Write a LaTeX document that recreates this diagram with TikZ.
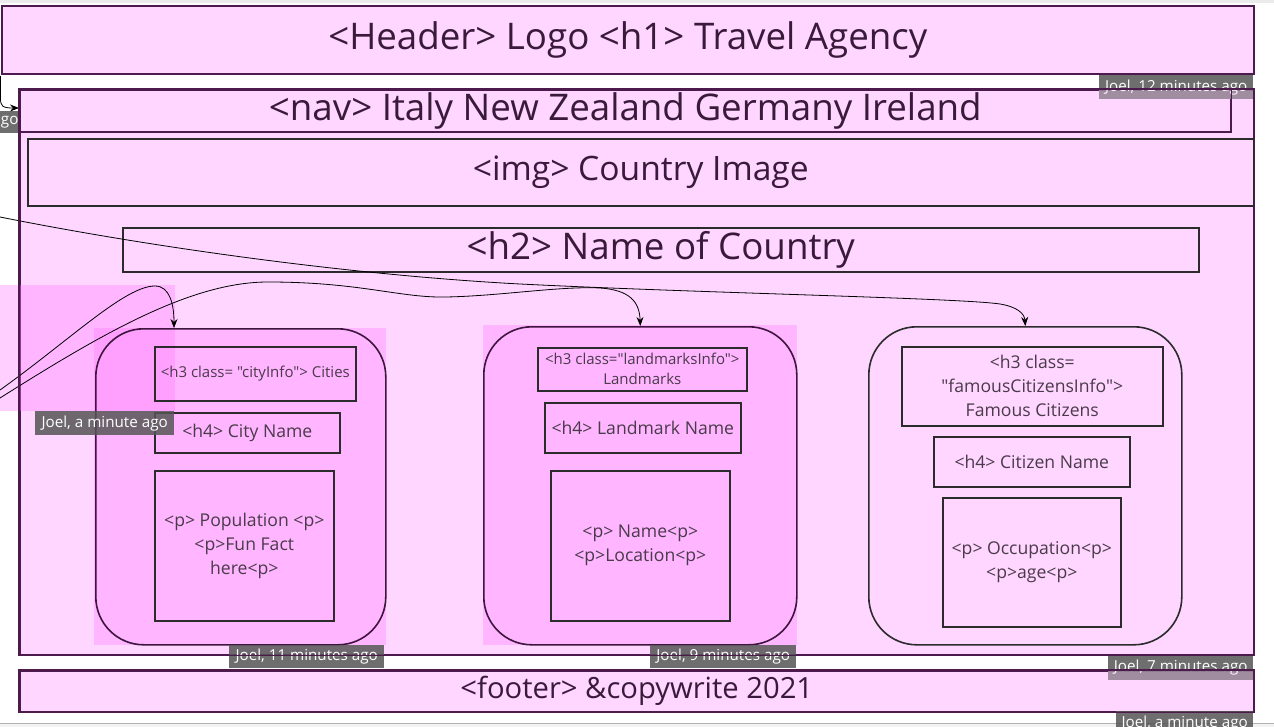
\documentclass[tikz,border=0pt]{standalone}
\usepackage{fontspec}
\setmainfont{Open Sans}[Ligatures=TeXOff]
\usetikzlibrary{arrows.meta}
\definecolor{pinkbg}{HTML}{FFD6FF}
\definecolor{hlc}{HTML}{FF7AFF}
\definecolor{framec}{HTML}{4D1A4D}
\definecolor{boxc}{HTML}{2B2B2B}
\definecolor{cardc}{HTML}{3D153D}
\definecolor{bigtext}{HTML}{3A1A3A}
\definecolor{smalltext}{HTML}{4A3A4A}
\definecolor{tagc}{HTML}{555555}
\newcommand{\bigfont}{\fontsize{36.7}{42}\selectfont}
\newcommand{\imgfont}{\fontsize{33.6}{40}\selectfont}
\newcommand{\footfont}{\fontsize{29.2}{34}\selectfont}
\newcommand{\midfont}{\fontsize{17.6}{24}\selectfont}
\newcommand{\hthreefont}{\fontsize{15}{20}\selectfont}
\tikzset{
  frame/.style={draw=framec, line width=1.6pt, fill=pinkbg, inner sep=0pt, anchor=north west, text=bigtext, font=\bigfont},
  inbox/.style={draw=boxc, line width=1.6pt, inner sep=0pt, anchor=north west, align=center, text=smalltext, font=\midfont},
  cardbox/.style={draw=cardc, line width=1.6pt, rounded corners=48pt, inner sep=0pt, anchor=north west},
  hlarea/.style={fill=hlc, fill opacity=0.35},
  tagbox/.style={fill=tagc, fill opacity=0.85, text opacity=1, text=white, inner sep=0pt, anchor=north west, font=\fontsize{15.2}{17}\selectfont},
  conn/.style={draw=black, line width=0.8pt, -{Stealth[length=9pt,width=7pt]}},
  borderonly/.style={draw=framec, line width=1.6pt}
}
\begin{document}
\begin{tikzpicture}[x=1pt,y=-1pt]
\clip (0,0) rectangle (1274,727);
\fill[white] (0,0) rectangle (1274,727);
% window chrome
\fill[black!8] (0,0) rectangle (1274,3);
\fill[black!5] (0,723) rectangle (1274,727);
\draw[black!30, line width=0.8pt] (0,723) -- (1274,723);

% frames
\node[frame, minimum width=1252pt, minimum height=68pt] (header) at (1,5) {<Header> Logo <h1> Travel Agency};
\node[frame, minimum width=1234pt, minimum height=565pt] (main) at (19,89) {};
\node[frame, minimum width=1211pt, minimum height=42pt] (nav) at (19,89) {<nav> Italy New Zealand Germany Ireland};
\node[inbox, fill=pinkbg, text=bigtext, font=\imgfont, minimum width=1226pt, minimum height=67pt] (img) at (27,138) {<img> Country Image};
\node[inbox, text=bigtext, font=\bigfont, minimum width=1076pt, minimum height=44pt] (h2) at (122,227) {<h2> Name of Country};
\node[frame, font=\footfont, minimum width=1234pt, minimum height=41pt] (footer) at (19,670) {<footer> \&copywrite 2021};

% highlight areas
\fill[hlarea] (0,285) rectangle (175,411);
\fill[hlarea] (94,328) rectangle (386,645);
\fill[hlarea] (483,325) rectangle (797,645);

% cards
\node[cardbox, minimum width=290pt, minimum height=316pt] (card1) at (95,328) {};
\node[cardbox, minimum width=313pt, minimum height=318pt] (card2) at (483,326) {};
\node[cardbox, draw=boxc, minimum width=313pt, minimum height=318pt] (card3) at (868,326) {};

% card 1 content
\node[inbox, font=\hthreefont, minimum width=201pt, minimum height=54pt] (c1h3) at (154,346) {<h3 class= "cityInfo"> Cities};
\node[inbox, minimum width=185pt, minimum height=40pt] (c1h4) at (154,412) {<h4> City Name};
\node[inbox, minimum width=179pt, minimum height=150pt] (c1p) at (154,470) {<p> Population <p>\\<p>Fun Fact\\here<p>};

% card 2 content
\node[inbox, font=\hthreefont, minimum width=209pt, minimum height=43pt] (c2h3) at (537,347) {<h3 class="landmarksInfo">\\Landmarks};
\node[inbox, minimum width=196pt, minimum height=50pt] (c2h4) at (544,402) {<h4> Landmark Name};
\node[inbox, minimum width=179pt, minimum height=150pt] (c2p) at (550,470) {<p> Name<p>\\<p>Location<p>};

% card 3 content
\node[inbox, minimum width=261pt, minimum height=79pt] (c3h3) at (901,346) {<h3 class=\\"famousCitizensInfo">\\Famous Citizens};
\node[inbox, minimum width=196pt, minimum height=50pt] (c3h4) at (933,436) {<h4> Citizen Name};
\node[inbox, minimum width=178pt, minimum height=129pt] (c3p) at (942,497) {<p> Occupation<p>\\<p>age<p>};

% connector ends
\coordinate (s0) at (0.5,76);
\coordinate (s1) at (0,217);
\coordinate (s2) at (0,390);
\coordinate (s3) at (0,398);
\coordinate (c1in) at (174,328);
\coordinate (navin) at (19,108);

% connectors
\draw[conn] (s0) -- (0.5,98) .. controls (0.5,106) and (2,108) .. (navin);
\draw[conn] (s1) .. controls (150,247) and (350,275) .. (520,284)
  .. controls (700,293) and (960,298) .. (1000,304)
  .. controls (1018,307) and (1024.5,314) .. (card3.north);
\draw[conn] (s2) .. controls (70,340) and (125,286) .. (155,286)
  .. controls (170,286) and (174,305) .. (c1in);
\draw[conn] (s3) .. controls (100,335) and (190,282) .. (268,282)
  .. controls (360,282) and (400,298) .. (446,297)
  .. controls (500,296) and (560,286) .. (600,288)
  .. controls (630,290) and (639.5,302) .. (card2.north);

% comment tags
\node[tagbox, minimum width=154pt, minimum height=24pt] (t12) at (1099,75) {Joel, 12 minutes ago};
\node[tagbox, minimum width=19pt, minimum height=22pt] (tgo) at (0,111) {go};
\node[tagbox, minimum width=139pt, minimum height=24pt] (tmin1) at (35,411) {Joel, a minute ago};
\node[tagbox, minimum width=155pt, minimum height=23pt] (t11) at (229,645) {Joel, 11 minutes ago};
\node[tagbox, minimum width=146pt, minimum height=23pt] (t9) at (650,645) {Joel, 9 minutes ago};
\node[tagbox, minimum width=145pt, minimum height=25pt] (t7) at (1108,655) {Joel, 7 minutes ago};
\node[tagbox, minimum width=137pt, minimum height=24pt] (tmin2) at (1116,711) {Joel, a minute ago};

% tint where tags lie under frames
\fill[pinkbg, fill opacity=0.35] (1099,89) rectangle (1253,99);
\fill[pinkbg, fill opacity=0.35] (1108,670) rectangle (1253,680);

% frame borders over tags
\draw[borderonly] (main.north west) rectangle (main.south east);
\draw[borderonly] (nav.north west) rectangle (nav.south east);
\draw[borderonly] (footer.north west) rectangle (footer.south east);
\end{tikzpicture}
\end{document}
